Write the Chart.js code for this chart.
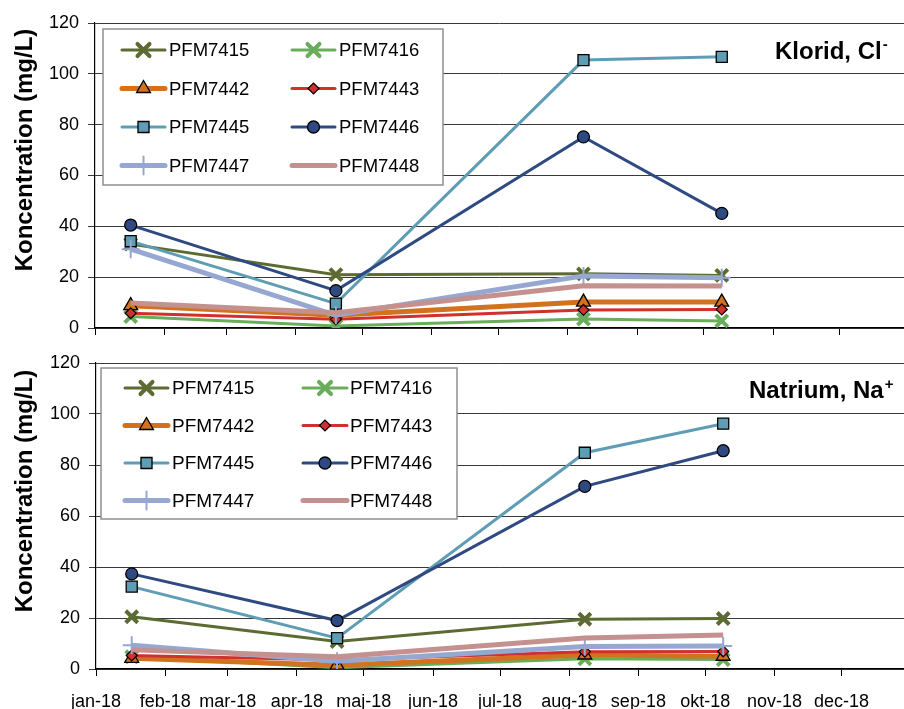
<!DOCTYPE html>
<html>
<head>
<meta charset="utf-8">
<script src="https://cdn.jsdelivr.net/npm/chart.js@4.4.1/dist/chart.umd.min.js"></script>
<style>
  html, body { margin: 0; padding: 0; background: #fff; }
  body { width: 904px; height: 709px; position: relative; overflow: hidden; }
  canvas { position: absolute; left: 0; }
</style>
</head>
<body>
<canvas id="top" width="904" height="360" style="top:0px"></canvas>
<canvas id="bot" width="904" height="369" style="top:340px"></canvas>
<script>
// ---------- data ----------
const monthLabels = ['jan-18','feb-18','mar-18','apr-18','maj-18','jun-18','jul-18','aug-18','sep-18','okt-18','nov-18','dec-18'];
const monthStarts = ['2018-01-01','2018-02-01','2018-03-01','2018-04-01','2018-05-01','2018-06-01','2018-07-01','2018-08-01','2018-09-01','2018-10-01','2018-11-01','2018-12-01'];
const sampleDates = ['2018-01-17','2018-04-19','2018-08-08','2018-10-09'];
const seriesNames = ['PFM7415','PFM7416','PFM7442','PFM7443','PFM7445','PFM7446','PFM7447','PFM7448'];
const yTicks = [0, 20, 40, 60, 80, 100, 120];

// Klorid, Cl-
const cl_PFM7415 = [33, 21, 21.3, 20.7];
const cl_PFM7416 = [4.5, 0.8, 3.5, 2.8];
const cl_PFM7442 = [8.8, 5, 10.2, 10.2];
const cl_PFM7443 = [5.8, 3.4, 7.1, 7.3];
const cl_PFM7445 = [34.2, 9.6, 105.4, 106.7];
const cl_PFM7446 = [40.5, 14.7, 75.2, 45.1];
const cl_PFM7447 = [31, 5, 20.5, 19.8];
const cl_PFM7448 = [9.8, 6, 16.6, 16.5];

// Natrium, Na+
const na_PFM7415 = [20.5, 10.8, 19.5, 19.8];
const na_PFM7416 = [4.8, 0.5, 4.0, 3.7];
const na_PFM7442 = [4.2, 1.5, 5.5, 5.0];
const na_PFM7443 = [5.3, 3.5, 6.8, 6.9];
const na_PFM7445 = [32.3, 12.1, 84.8, 96.2];
const na_PFM7446 = [37.3, 19, 71.6, 85.6];
const na_PFM7447 = [9.3, 3, 8.8, 9.0];
const na_PFM7448 = [7.5, 4.8, 12.2, 13.3];

// ---------- helpers ----------
function dayOfYear(s) {
  const d = new Date(s + 'T00:00:00Z');
  return Math.round((d - Date.UTC(2018, 0, 1)) / 86400000);
}
const monthDays = monthStarts.map(dayOfYear);
const sampleDays = sampleDates.map(dayOfYear);

const FONT = "'Liberation Sans', Arial, sans-serif";

const styles = {
  PFM7415: { color: '#5c6b32', width: 3, style: 'crossRot', radius: 8.5, fill: '#5c6b32', border: '#5c6b32', bw: 4 },
  PFM7416: { color: '#69ad5b', width: 3, style: 'crossRot', radius: 8.5, fill: '#69ad5b', border: '#69ad5b', bw: 4 },
  PFM7442: { color: '#d2721f', width: 5, style: 'triangle', radius: 8, fill: '#d2721f', border: '#000', bw: 1.3 },
  PFM7443: { color: '#d0302e', width: 3, style: 'rectRot', radius: 5.5, fill: '#d0302e', border: '#000', bw: 1.2 },
  PFM7445: { color: '#5f9db5', width: 3, style: 'rect', radius: 7.8, fill: '#5f9db5', border: '#000', bw: 1.3 },
  PFM7446: { color: '#2f4a82', width: 3, style: 'circle', radius: 6, fill: '#2f4a82', border: '#000', bw: 1.3 },
  PFM7447: { color: '#96a7d1', width: 5, style: 'cross', radius: 9, fill: '#96a7d1', border: '#96a7d1', bw: 2 },
  PFM7448: { color: '#c4918e', width: 5, style: false, radius: 0, fill: '#c4918e', border: '#c4918e', bw: 0 }
};

function buildDatasets(valueLists) {
  return seriesNames.map((name, i) => {
    const st = styles[name];
    return {
      label: name,
      data: sampleDays.map((d, k) => ({ x: d, y: valueLists[i][k] })),
      borderColor: st.color,
      borderWidth: st.width,
      backgroundColor: st.fill,
      pointStyle: st.style,
      pointRadius: st.radius,
      pointHoverRadius: st.radius,
      pointBackgroundColor: st.fill,
      pointBorderColor: st.border,
      pointBorderWidth: st.bw,
      tension: 0,
      fill: false,
      order: seriesNames.length - i
    };
  });
}

function drawMarker(ctx, st, x, y) {
  if (!st.style) return;
  ctx.save();
  ctx.fillStyle = st.fill;
  ctx.strokeStyle = st.border;
  ctx.lineWidth = st.bw;
  if (Chart.helpers && Chart.helpers.drawPoint) {
    Chart.helpers.drawPoint(ctx, { pointStyle: st.style, radius: st.radius, rotation: 0, borderWidth: st.bw }, x, y);
  }
  ctx.restore();
}

function decorPlugin(cfg) {
  return {
    id: 'decor',
    afterDraw(chart) {
      const ctx = chart.ctx;
      // legend box
      const L = cfg.legend;
      ctx.save();
      ctx.fillStyle = '#fff';
      ctx.fillRect(L.x, L.y, L.w, L.h);
      ctx.strokeStyle = '#8f8f8f';
      ctx.lineWidth = 1.5;
      ctx.strokeRect(L.x, L.y, L.w, L.h);
      ctx.font = L.font + 'px ' + FONT;
      ctx.textBaseline = 'middle';
      ctx.textAlign = 'left';
      seriesNames.forEach((name, i) => {
        const st = styles[name];
        const col = i % 2, row = Math.floor(i / 2);
        const c = L.cols[col];
        const y = L.rows[row];
        ctx.strokeStyle = st.color;
        ctx.lineWidth = st.width;
        ctx.lineCap = 'round';
        ctx.beginPath();
        ctx.moveTo(c.x0, y);
        ctx.lineTo(c.x1, y);
        ctx.stroke();
        drawMarker(ctx, st, (c.x0 + c.x1) / 2, y);
        ctx.fillStyle = '#000';
        ctx.fillText(name, c.tx, y + 1);
      });
      // chart title
      ctx.fillStyle = '#000';
      ctx.font = 'bold 24px ' + FONT;
      ctx.textBaseline = 'alphabetic';
      ctx.fillText(cfg.title.text, cfg.title.x, cfg.title.y);
      const w = ctx.measureText(cfg.title.text).width;
      ctx.font = 'bold 15px ' + FONT;
      ctx.fillText(cfg.title.sup, cfg.title.x + w + 1, cfg.title.y + cfg.title.supDy);
      // y axis title
      ctx.save();
      ctx.translate(cfg.ytitle.x, cfg.ytitle.y);
      ctx.rotate(-Math.PI / 2);
      ctx.font = 'bold 24px ' + FONT;
      ctx.textAlign = 'center';
      ctx.textBaseline = 'middle';
      ctx.fillText('Koncentration (mg/L)', 0, 0);
      ctx.restore();
      ctx.restore();
    }
  };
}

function makeChart(id, valueLists, cfg) {
  const H = document.getElementById(id).height;
  return new Chart(document.getElementById(id), {
    type: 'line',
    data: { datasets: buildDatasets(valueLists) },
    options: {
      responsive: false,
      animation: false,
      devicePixelRatio: 1,
      layout: { autoPadding: false, padding: { top: 23, right: 0, bottom: 0, left: 0 } },
      plugins: { legend: { display: false }, tooltip: { enabled: false } },
      events: [],
      scales: {
        x: {
          type: 'linear',
          min: 0,
          max: cfg.xMax,
          afterBuildTicks: (s) => { s.ticks = monthDays.map(v => ({ value: v })); },
          afterFit: (s) => { s.height = H - cfg.plotBottom; },
          ticks: {
            display: true,
            autoSkip: false,
            maxRotation: 0,
            padding: 15,
            color: cfg.showX ? '#000' : 'rgba(0,0,0,0)',
            font: { size: 18, family: FONT },
            callback: (v, i) => monthLabels[i]
          },
          grid: { drawOnChartArea: false, drawTicks: true, tickLength: 7, color: '#000', lineWidth: 1 },
          border: { display: true, color: '#000', width: 1.2 }
        },
        y: {
          min: 0,
          max: 120,
          afterBuildTicks: (s) => { s.ticks = yTicks.map(v => ({ value: v })); },
          afterFit: (s) => { s.width = cfg.yWidth; },
          ticks: {
            padding: 9,
            color: '#000',
            font: { size: 18, family: FONT },
            callback: (v) => String(v)
          },
          grid: { color: '#3a3a3a', lineWidth: 1, tickLength: 7 },
          border: { display: true, color: '#000', width: 1.2 }
        }
      }
    },
    plugins: [decorPlugin(cfg)]
  });
}

makeChart('top',
  [cl_PFM7415, cl_PFM7416, cl_PFM7442, cl_PFM7443, cl_PFM7445, cl_PFM7446, cl_PFM7447, cl_PFM7448],
  {
    xMax: 362.7, yWidth: 95, plotBottom: 328, showX: false,
    legend: { x: 103, y: 29, w: 340, h: 156, font: 18.5,
      rows: [50, 88.5, 127, 165.5],
      cols: [{ x0: 122, x1: 165, tx: 169 }, { x0: 292, x1: 335, tx: 339 }] },
    title: { text: 'Klorid, Cl', sup: '-', x: 775, y: 59, supDy: -10 },
    ytitle: { x: 25, y: 150 }
  });

makeChart('bot',
  [na_PFM7415, na_PFM7416, na_PFM7442, na_PFM7443, na_PFM7445, na_PFM7446, na_PFM7447, na_PFM7448],
  {
    xMax: 362, yWidth: 96, plotBottom: 329, showX: true,
    legend: { x: 101, y: 28, w: 356, h: 151, font: 19,
      rows: [48, 85.5, 123, 160.5],
      cols: [{ x0: 125, x1: 168, tx: 172 }, { x0: 303, x1: 347, tx: 350 }] },
    title: { text: 'Natrium, Na', sup: '+', x: 749, y: 58, supDy: -9 },
    ytitle: { x: 25, y: 151 }
  });
</script>
</body>
</html>
